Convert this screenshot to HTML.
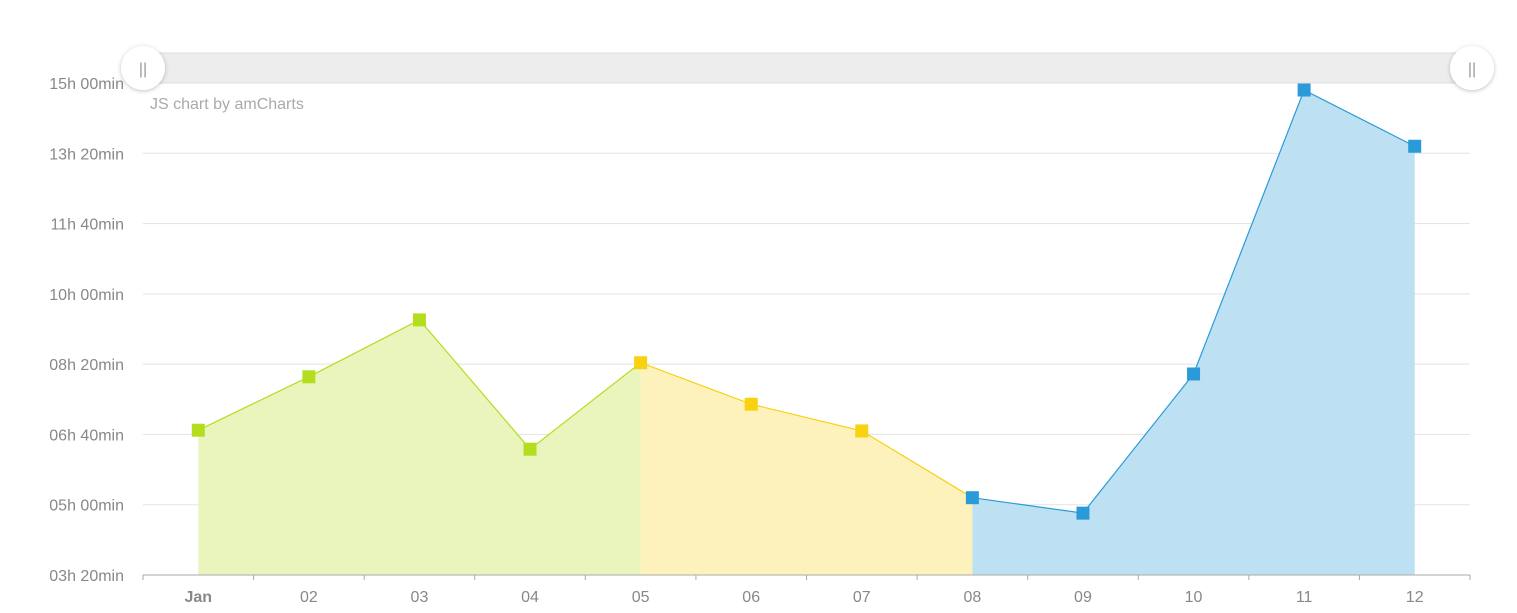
<!DOCTYPE html>
<html><head><meta charset="utf-8">
<style>
html,body{margin:0;padding:0;background:#fff;width:1517px;height:613px;overflow:hidden;font-family:"Liberation Sans",sans-serif;}
svg text{font-family:"Liberation Sans",sans-serif;}
</style></head>
<body>
<svg id="chart" width="1517" height="613" xmlns="http://www.w3.org/2000/svg">
<defs><filter id="sh" x="-50%" y="-50%" width="200%" height="200%"><feDropShadow dx="0" dy="1" stdDeviation="2" flood-color="#000" flood-opacity="0.25"/></filter></defs>
<g id="grid"></g>
<g id="areas"></g>
<g id="lines"></g>
<g id="points"></g>
<g id="yaxis"></g>
<g id="xaxis"></g>
<g>
<rect x="143" y="53" width="1329" height="30" fill="#ededed" stroke="#ddd"/>
<circle cx="143" cy="68" r="22" fill="#fff" filter="url(#sh)"/>
<text x="143" y="74" font-size="16" fill="#999" text-anchor="middle">||</text>
<circle cx="1472" cy="68" r="22" fill="#fff" filter="url(#sh)"/>
<text x="1472" y="74" font-size="16" fill="#999" text-anchor="middle">||</text>
</g>
<text x="150" y="109" font-size="16" fill="#aaa">JS chart by amCharts</text>
</svg>
<script>
const categories=["Jan","02","03","04","05","06","07","08","09","10","11","12"];
const valuesMin=[406,482,563,379,502,443,405,310,288,486,890,810];
const yTickValues=[200,300,400,500,600,700,800,900];
const yTickLabels=["03h 20min","05h 00min","06h 40min","08h 20min","10h 00min","11h 40min","13h 20min","15h 00min"];
const segmentStarts=[0,4,7];
const segmentEnds=[4,7,11];
const segColors=["#b4dd1e","#f8d10f","#2a9bd8"];
const segFills=["#eaf5bd","#fdf2bc","#bde0f3"];
const NS="http://www.w3.org/2000/svg";
const x0=143,x1=1470,yTop=83,yBot=575,vMin=200,vMax=900;
const step=(x1-x0)/categories.length;
function xs(i){return x0+step*(i+0.5);}
function ys(v){return yBot-(v-vMin)/(vMax-vMin)*(yBot-yTop);}
function mk(t,a,p){const e=document.createElementNS(NS,t);for(const k in a)e.setAttribute(k,a[k]);p.appendChild(e);return e;}
const grid=document.getElementById('grid'),ya=document.getElementById('yaxis'),xa=document.getElementById('xaxis');
yTickValues.forEach((v,i)=>{
 if(i>0){const l=mk('line',{x1:x0,x2:x1,y1:ys(v),y2:ys(v),stroke:'#e3e3e3'},grid);
 
 }
 const t=mk('text',{x:124,y:ys(v)+6,'font-size':16,fill:'#888','text-anchor':'end'},ya);
 t.textContent=yTickLabels[i];
 
 
});
const ax=mk('line',{x1:x0,x2:x1,y1:yBot,y2:yBot,stroke:'#aaa'},xa);


for(let i=0;i<=categories.length;i++){const tk=mk('line',{x1:x0+step*i,x2:x0+step*i,y1:yBot,y2:yBot+5,stroke:'#aaa'},xa);
 
 }
categories.forEach((c,i)=>{
 const t=mk('text',{x:xs(i),y:602,'font-size':16,fill:'#888','text-anchor':'middle','font-weight':i==0?'bold':'normal'},xa);
 t.textContent=c;
 
 
});
const areas=document.getElementById('areas'),lines=document.getElementById('lines'),pts=document.getElementById('points');
segmentStarts.forEach((s,k)=>{
 const e=segmentEnds[k];let pl=[];
 for(let i=s;i<=e;i++)pl.push(xs(i)+','+ys(valuesMin[i]));
 const a=mk('polygon',{points:xs(s)+','+yBot+' '+pl.join(' ')+' '+xs(e)+','+yBot,fill:segFills[k]},areas);
 
 
 const l=mk('polyline',{points:pl.join(' '),fill:'none',stroke:segColors[k],'stroke-width':1.2},lines);
 
 
});
valuesMin.forEach((v,i)=>{
 let k=i<4?0:(i<7?1:2);
 const r=mk('rect',{x:xs(i)-6.5,y:ys(v)-6.5,width:13,height:13,fill:segColors[k]},pts);
 
 
});
</script>
</body></html>
